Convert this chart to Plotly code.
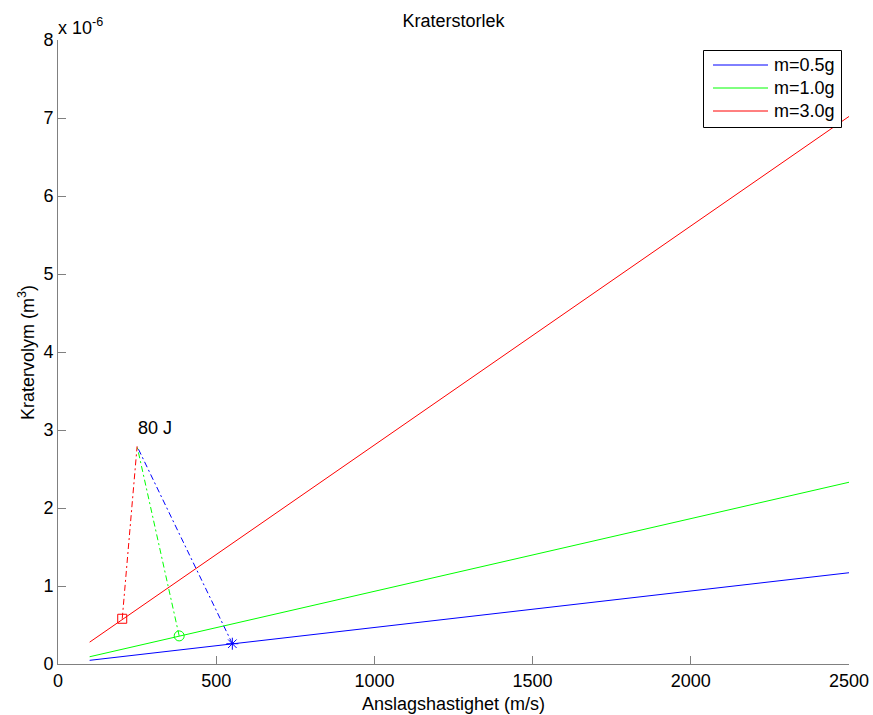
import plotly.graph_objects as go

# Data (volumes in units of 1e-6 m^3)
speed = [100, 2500]
vol_05 = [0.047, 1.17]
vol_10 = [0.093, 2.33]
vol_30 = [0.28, 7.02]

# 80 J point and impact markers (order: 0.5 g, 1.0 g, 3.0 g)
peak_x = 250
peak_y = 2.79
mark_x = [551, 383, 203]
mark_y = [0.26, 0.36, 0.58]
series_names = ["m=0.5g", "m=1.0g", "m=3.0g"]
x_ticks = [0, 500, 1000, 1500, 2000, 2500]
y_ticks = [0, 1, 2, 3, 4, 5, 6, 7, 8]

FONT = "Liberation Sans, Arial, Helvetica, sans-serif"
BLUE, GREEN, RED = "rgb(0,0,255)", "rgb(0,255,0)", "rgb(255,0,0)"
COLS = [BLUE, GREEN, RED]
DASHDOT = "6px,3px,2px,3px"
AXC = "#808080"

L, R, T, B, W, H = 58, 24, 40, 51, 873, 715
PW, PH = W - L - R, H - T - B


def px(x):
    return (x - L) / PW


def py(y):
    return (H - B - y) / PH


fig = go.Figure()
for ys, name, col in zip([vol_05, vol_10, vol_30], series_names, COLS):
    fig.add_trace(go.Scatter(x=speed, y=ys, mode="lines", name=name, showlegend=False,
                             line=dict(color=col, width=1)))

for mx, my, col in zip(mark_x, mark_y, COLS):
    fig.add_trace(go.Scatter(x=[mx, peak_x], y=[my, peak_y], mode="lines",
                             line=dict(color=col, width=1, dash=DASHDOT),
                             showlegend=False, hoverinfo="skip"))

symbols = ["asterisk-open", "circle-open", "square-open"]
sizes = [10, 10, 9]
for mx, my, col, sym, sz in zip(mark_x, mark_y, COLS, symbols, sizes):
    fig.add_trace(go.Scatter(x=[mx], y=[my], mode="markers", showlegend=False,
                             marker=dict(symbol=sym, size=sz, color=col,
                                         line=dict(color=col, width=1))))

# Legend box (MATLAB style)
fig.add_shape(type="rect", xref="paper", yref="paper",
              x0=px(703.5), x1=px(841.5), y0=py(127.5), y1=py(50.5),
              line=dict(color="black", width=1), fillcolor="white", layer="above")
for i, (name, col) in enumerate(zip(series_names, COLS)):
    yy = 65 + i * 23
    fig.add_shape(type="line", xref="paper", yref="paper",
                  x0=px(713), x1=px(768), y0=py(yy), y1=py(yy),
                  line=dict(color=col, width=1), layer="above")
    fig.add_annotation(xref="paper", yref="paper", x=px(772), y=py(yy), text=name,
                       showarrow=False, xanchor="left", yanchor="middle",
                       font=dict(size=18, color="black", family=FONT))

fig.add_annotation(x=247, y=3.02, text="80 J", showarrow=False,
                   xanchor="left", yanchor="middle",
                   font=dict(size=18, color="black", family=FONT))

fig.add_annotation(xref="paper", yref="paper", x=-0.003, y=1.0, text="x 10<sup>-6</sup>",
                   showarrow=False, xanchor="left", yanchor="bottom",
                   font=dict(size=18, color="black", family=FONT))

fig.add_annotation(xref="paper", yref="paper", x=-0.0405, y=0.5,
                   text="Kratervolym (m<sup>3</sup>)", textangle=-90, showarrow=False,
                   xanchor="center", yanchor="middle",
                   font=dict(size=18, color="black", family=FONT))

fig.add_annotation(xref="paper", yref="paper", x=0.5, y=-0.0642,
                   text="Anslagshastighet (m/s)", showarrow=False,
                   xanchor="center", yanchor="middle",
                   font=dict(size=18, color="black", family=FONT))

fig.update_layout(
    width=W, height=H,
    margin=dict(l=L, r=R, t=T, b=B, pad=0),
    paper_bgcolor="white", plot_bgcolor="white",
    font=dict(family=FONT, size=18, color="black"),
    title=dict(text="Kraterstorlek", x=0.5, xref="paper", y=1 - 21 / H,
               yanchor="middle", xanchor="center", font=dict(size=18, family=FONT)),
    xaxis=dict(range=[0, 2500], tickvals=x_ticks, ticktext=[str(v) for v in x_ticks],
               ticks="inside", ticklen=8, tickcolor=AXC, showline=True, linecolor=AXC,
               linewidth=1, showgrid=False, zeroline=False, mirror=False, automargin=False,
               tickfont=dict(size=18, family=FONT)),
    yaxis=dict(range=[0, 8], tickvals=y_ticks, ticktext=[str(v) for v in y_ticks],
               ticks="inside", ticklen=8, tickcolor=AXC, showline=True, linecolor=AXC,
               linewidth=1, showgrid=False, zeroline=False, mirror=False, automargin=False,
               tickfont=dict(size=18, family=FONT)),
    showlegend=False,
)

fig.write_html("out.html")
